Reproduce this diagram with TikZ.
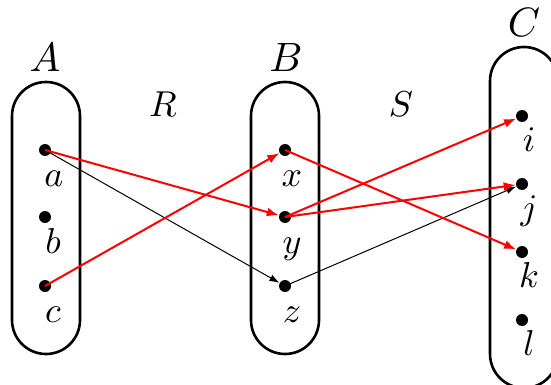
\documentclass[tikz,border=0pt]{standalone}
\usetikzlibrary{arrows.meta}
\newcommand{\smlbl}[1]{\scalebox{1.8}{$#1$}}
\newcommand{\bglbl}[1]{\scalebox{2.05}{$#1$}}
\begin{document}
\begin{tikzpicture}[x=0.5pt,y=-0.5pt,
  setbox/.style={draw,line width=1.3pt,rounded corners=17pt},
  dot/.style={circle,fill=black,inner sep=0pt,minimum size=6pt},
  lbl/.style={anchor=base,inner sep=0pt},
  rel/.style={red,line width=1pt,-{Latex[length=6pt,width=4.5pt]}},
  blk/.style={black,line width=0.5pt,-{Latex[length=5pt,width=3.5pt]}}]
\useasboundingbox (0,0) rectangle (551,385);
\clip (0,0) rectangle (551,385);
% sets
\draw[setbox] (12,82) rectangle (80,354);
\draw[setbox] (251,82) rectangle (319,354);
\draw[setbox] (490,47) rectangle (558,388);
% set names
\node[lbl] (lA) at (45,72) {\bglbl{A}};
\node[lbl] (lB) at (286,72) {\bglbl{B}};
\node[lbl] (lC) at (524,37) {\bglbl{C}};
\node[lbl] (lR) at (163,117) {\smlbl{R}};
\node[lbl] (lS) at (401,117) {\smlbl{S}};
% elements
\node[dot] (na) at (45,150) {};
\node[dot] (nb) at (45,217) {};
\node[dot] (nc) at (45,286) {};
\node[dot] (nx) at (285,150) {};
\node[dot] (ny) at (285,217) {};
\node[dot] (nz) at (285,286) {};
\node[dot] (ni) at (522,116) {};
\node[dot] (nj) at (522,184) {};
\node[dot] (nk) at (522,252) {};
\node[dot] (nl) at (522,320) {};
% element labels
\node[lbl] (ta) at (54,186) {\smlbl{a}};
\node[lbl] (tb) at (53,253) {\smlbl{b}};
\node[lbl] (tc) at (53,322) {\smlbl{c}};
\node[lbl] (tx) at (292,186) {\smlbl{x}};
\node[lbl] (ty) at (292,253) {\smlbl{y}};
\node[lbl] (tz) at (292,322) {\smlbl{z}};
\node[lbl] (ti) at (529,151) {\smlbl{i}};
\node[lbl] (tj) at (529,219) {\smlbl{j}};
\node[lbl] (tk) at (529,287) {\smlbl{k}};
\node[lbl] (tl) at (529,355) {\smlbl{l}};
% relation arrows
\draw[blk] (na.center) -- (nz);
\draw[blk] (nz.center) -- (nj);
\draw[rel] (na.center) -- (ny);
\draw[rel] (nc.center) -- (nx);
\draw[rel] (nx.center) -- (nk);
\draw[rel] (ny.center) -- (ni);
\draw[rel] (ny.center) -- (nj);
\end{tikzpicture}
\end{document}
